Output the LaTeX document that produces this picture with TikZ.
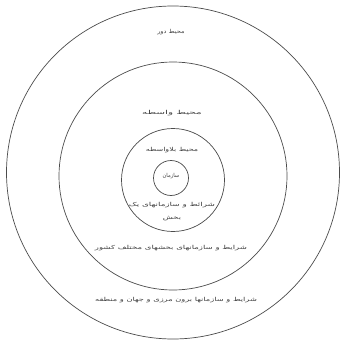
\documentclass[tikz,border=0pt]{standalone}
\usepackage{graphicx}
\usepackage{fontspec}
\newfontfamily\arabicfont[Script=Arabic]{DejaVu Sans}
\TeXXeTstate=1
\begin{document}
\begin{tikzpicture}[x=1pt,y=-1pt,
  ring/.style={draw=black!70,line width=0.7pt},
  lbl/.style={inner sep=0pt,font=\arabicfont\fontsize{5.5}{7}\selectfont,text=black!75}]
\useasboundingbox (0,0) rectangle (341,342);
\fill[white] (0,0) rectangle (341,342);
\node[ring,circle,minimum size=333pt,inner sep=0pt] (c1) at (173,172.5) {};
\node[ring,circle,minimum size=228pt,inner sep=0pt] (c2) at (173,176) {};
\node[ring,circle,minimum size=103pt,inner sep=0pt] (c3) at (173,180) {};
\node[ring,circle,minimum size=35pt,inner sep=0pt] (c4) at (171,178) {};
\node[lbl] (t1) at (171,32) {\scalebox{1.2}[1]{\beginR محیط دور\endR}};
\node[lbl] (t2) at (172,113) {\scalebox{1.9}[1]{\beginR محیط واسطه\endR}};
\node[lbl] (t3) at (172,150) {\scalebox{1.45}[1]{\beginR محیط بلاواسطه\endR}};
\node[lbl] (t4) at (171,176) {\scalebox{0.95}[1]{\beginR سازمان\endR}};
\node[lbl] (t5) at (172,205) {\scalebox{1.6}[1]{\beginR شرائط و سازمانهای یک\endR}};
\node[lbl] (t6) at (172,219) {\scalebox{1.5}[1]{\beginR بخش\endR}};
\node[lbl] (t7) at (171,248) {\scalebox{1.55}[1]{\beginR شرایط و سازمانهای بخشهای مختلف کشور\endR}};
\node[lbl] (t8) at (176,300) {\scalebox{1.5}[1]{\beginR شرایط و سازمانها برون مرزی و جهان و منطقه\endR}};
\end{tikzpicture}
\end{document}
